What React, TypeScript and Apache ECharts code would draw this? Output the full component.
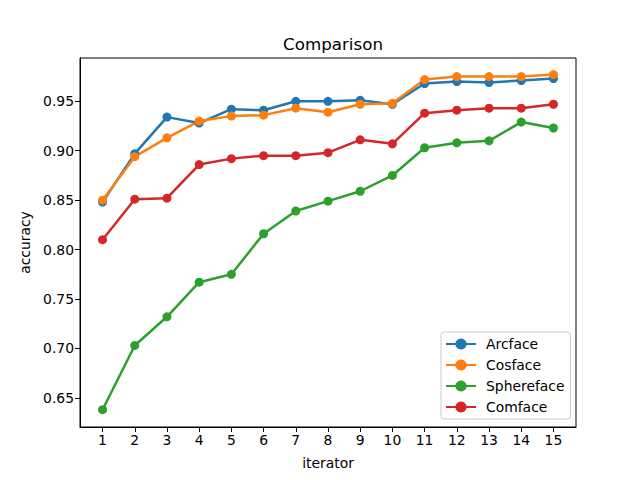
import React, { useEffect, useRef } from "react";
import * as echarts from "echarts";

const iterations = [1, 2, 3, 4, 5, 6, 7, 8, 9, 10, 11, 12, 13, 14, 15];
const arcface = [0.848, 0.897, 0.934, 0.928, 0.942, 0.941, 0.950, 0.950, 0.951, 0.947, 0.968, 0.970, 0.969, 0.971, 0.973];
const cosface = [0.850, 0.894, 0.913, 0.930, 0.935, 0.936, 0.943, 0.939, 0.947, 0.948, 0.972, 0.975, 0.975, 0.975, 0.977];
const sphereface = [0.638, 0.703, 0.732, 0.767, 0.775, 0.816, 0.839, 0.849, 0.859, 0.875, 0.903, 0.908, 0.910, 0.929, 0.923];
const comface = [0.810, 0.851, 0.852, 0.886, 0.892, 0.895, 0.895, 0.898, 0.911, 0.907, 0.938, 0.941, 0.943, 0.943, 0.947];
const yTicks = [0.65, 0.7, 0.75, 0.8, 0.85, 0.9, 0.95];

const seriesDefs = [
  { name: "Arcface", data: arcface, color: "#1f77b4" },
  { name: "Cosface", data: cosface, color: "#ff7f0e" },
  { name: "Sphereface", data: sphereface, color: "#2ca02c" },
  { name: "Comface", data: comface, color: "#d62728" },
];

const FONT = "DejaVu Sans";

export default function App() {
  const ref = useRef<HTMLDivElement>(null);
  useEffect(() => {
    if (!ref.current) return;
    const chart = echarts.init(ref.current, null, { renderer: "svg" });
    chart.setOption({
      animation: false,
      backgroundColor: "#ffffff",
      textStyle: { fontFamily: FONT },
      title: {
        text: "Comparison",
        left: 328,
        top: 30,
        textAlign: "center",
        textStyle: { fontFamily: FONT, fontSize: 16.7, fontWeight: "normal", color: "#000" },
      },
      grid: {
        left: 80,
        right: 64,
        top: 58,
        bottom: 53,
        show: true,
        borderColor: "#000",
        borderWidth: 1,
        backgroundColor: "transparent",
      },
      legend: {
        orient: "vertical",
        left: 441,
        top: 332,
        padding: [5, 6, 5, 4],
        itemWidth: 30,
        itemHeight: 14,
        itemGap: 7,
        borderColor: "#cccccc",
        borderWidth: 1,
        borderRadius: 3,
        backgroundColor: "rgba(255,255,255,0.8)",
        textStyle: { fontFamily: FONT, fontSize: 13.9, color: "#000", padding: [0, 0, 0, 5] },
        data: seriesDefs.map((s) => s.name),
      },
      xAxis: {
        type: "value",
        min: 0.3,
        max: 15.7,
        name: "iterator",
        nameLocation: "middle",
        nameGap: 29,
        nameTextStyle: { fontFamily: FONT, fontSize: 13.9, color: "#000" },
        axisLine: { show: true, lineStyle: { color: "#000", width: 1 } },
        axisTick: { show: true, length: 5, lineStyle: { color: "#000" }, customValues: iterations },
        axisLabel: {
          customValues: iterations,
          fontFamily: FONT,
          fontSize: 13.9,
          color: "#000",
          margin: 6,
          formatter: (v: number) => String(v),
        },
        splitLine: { show: false },
      },
      yAxis: {
        type: "value",
        min: 0.6205,
        max: 0.9938,
        name: "accuracy",
        nameLocation: "middle",
        nameGap: 48,
        nameRotate: 90,
        nameTextStyle: { fontFamily: FONT, fontSize: 13.9, color: "#000" },
        axisLine: { show: true, lineStyle: { color: "#000", width: 1 } },
        axisTick: { show: true, length: 5, lineStyle: { color: "#000" }, customValues: yTicks },
        axisLabel: {
          customValues: yTicks,
          fontFamily: FONT,
          fontSize: 13.9,
          color: "#000",
          margin: 6,
          formatter: (v: number) => v.toFixed(2),
        },
        splitLine: { show: false },
      },
      series: seriesDefs.map((s) => ({
        name: s.name,
        type: "line",
        data: iterations.map((x, i) => [x, s.data[i]]),
        color: s.color,
        symbol: "circle",
        symbolSize: 9,
        showSymbol: true,
        lineStyle: { width: 2.5, color: s.color },
        itemStyle: { color: s.color },
      })),
    });
    return () => chart.dispose();
  }, []);
  return (
    <div
      ref={ref}
      style={{ position: "fixed", left: 0, top: 0, width: 640, height: 480 }}
    />
  );
}
